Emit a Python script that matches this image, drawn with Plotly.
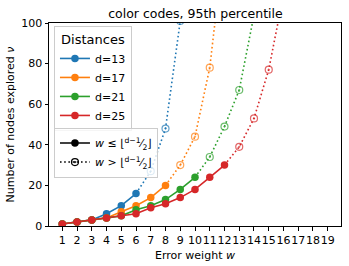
import plotly.graph_objects as go

# error weights
w = list(range(1, 20))

# d=13
w_13_solid = [1, 2, 3, 4, 5, 6]
v_13_solid = [1, 2, 3, 6, 10, 16]
w_13_dot = [6, 7, 8, 9]
v_13_dot = [16, 27, 48, 101]

# d=17
w_17_solid = [1, 2, 3, 4, 5, 6, 7, 8]
v_17_solid = [1, 2, 3, 4, 7, 10, 14, 20]
w_17_dot = [8, 9, 10, 11, 12]
v_17_dot = [20, 30, 44, 78, 141]

# d=21
w_21_solid = [1, 2, 3, 4, 5, 6, 7, 8, 9, 10]
v_21_solid = [1, 2, 3, 4, 5, 8, 10, 13, 18, 24]
w_21_dot = [10, 11, 12, 13, 14]
v_21_dot = [24, 34, 49, 67, 104]

# d=25
w_25_solid = [1, 2, 3, 4, 5, 6, 7, 8, 9, 10, 11, 12]
v_25_solid = [1, 2, 3, 4, 5, 6, 9, 11, 14, 18, 24, 30]
w_25_dot = [12, 13, 14, 15, 16]
v_25_dot = [30, 39, 53, 77, 114]

series = [
    ("d=13", "#1f77b4", w_13_solid, v_13_solid, w_13_dot, v_13_dot),
    ("d=17", "#ff7f0e", w_17_solid, v_17_solid, w_17_dot, v_17_dot),
    ("d=21", "#2ca02c", w_21_solid, v_21_solid, w_21_dot, v_21_dot),
    ("d=25", "#d62728", w_25_solid, v_25_solid, w_25_dot, v_25_dot),
]

DOT = "1.6px,2.6px"
LW = 1.6

fig = go.Figure()

# dotted continuations first, so the solid parts sit on top
for name, color, ws, vs, wd, vd in series:
    fig.add_trace(
        go.Scatter(
            x=wd, y=vd, mode="lines+markers", showlegend=False,
            line=dict(color=color, width=LW, dash=DOT),
            marker=dict(symbol="circle-open-dot",
                        size=[0] + [7] * (len(wd) - 1), color=color,
                        line=dict(width=1.2, color=color)),
        )
    )

for name, color, ws, vs, wd, vd in series:
    fig.add_trace(
        go.Scatter(
            x=ws, y=vs, mode="lines+markers", name=name,
            line=dict(color=color, width=LW),
            marker=dict(symbol="circle", size=7.5, color=color),
            legend="legend",
        )
    )

# style legend
fig.add_trace(
    go.Scatter(
        x=[None], y=[None], mode="lines+markers", legend="legend2",
        name="<i>w</i> ≤ ⌊<sup>d−1</sup>⁄<sub>2</sub>⌋",
        line=dict(color="black", width=LW),
        marker=dict(symbol="circle", size=7.5, color="black"),
    )
)
fig.add_trace(
    go.Scatter(
        x=[None], y=[None], mode="lines+markers", legend="legend2",
        name="<i>w</i> > ⌊<sup>d−1</sup>⁄<sub>2</sub>⌋",
        line=dict(color="black", width=LW, dash=DOT),
        marker=dict(symbol="circle-open-dot", size=7, color="black",
                    line=dict(width=1.2, color="black")),
    )
)

axis_common = dict(
    showline=True, linecolor="black", linewidth=1, mirror=True,
    ticks="outside", ticklen=3.5, tickcolor="black", showgrid=False,
    zeroline=False, tickfont=dict(size=11, color="black"), automargin=False,
)

fig.update_layout(
    width=349, height=266,
    margin=dict(l=49, r=8, t=23, b=40),
    paper_bgcolor="white", plot_bgcolor="white",
    font=dict(family="DejaVu Sans", size=11, color="black"),
    title=dict(text="color codes, 95th percentile", x=0.56, xanchor="center",
               y=0.95, yanchor="middle", font=dict(size=12.5)),
    xaxis=dict(axis_common, range=[0.1, 19.9], tickvals=w, tickangle=0,
               title=dict(text="Error weight <i>w</i>", standoff=5, font=dict(size=11))),
    yaxis=dict(axis_common, range=[0, 100], tickvals=[0, 20, 40, 60, 80, 100],
               title=dict(text="Number of nodes explored <i>ν</i>", standoff=4, font=dict(size=11))),
    legend=dict(
        x=0.017, y=0.985, xanchor="left", yanchor="top",
        title=dict(text="Distances", side="top center"),
        bgcolor="rgba(255,255,255,0.8)", bordercolor="#cccccc", borderwidth=1,
        font=dict(size=11), itemwidth=30, tracegroupgap=0,
    ),
    legend2=dict(
        x=0.017, y=0.485, xanchor="left", yanchor="top",
        bgcolor="rgba(255,255,255,0.8)", bordercolor="#cccccc", borderwidth=1,
        font=dict(size=11), itemwidth=30,
    ),
)

# the page body has a default 8px margin; drop it so the figure sits at 0,0
fig.write_html("out.html", config={"displayModeBar": False},
               post_script="document.body.style.margin='0';")
